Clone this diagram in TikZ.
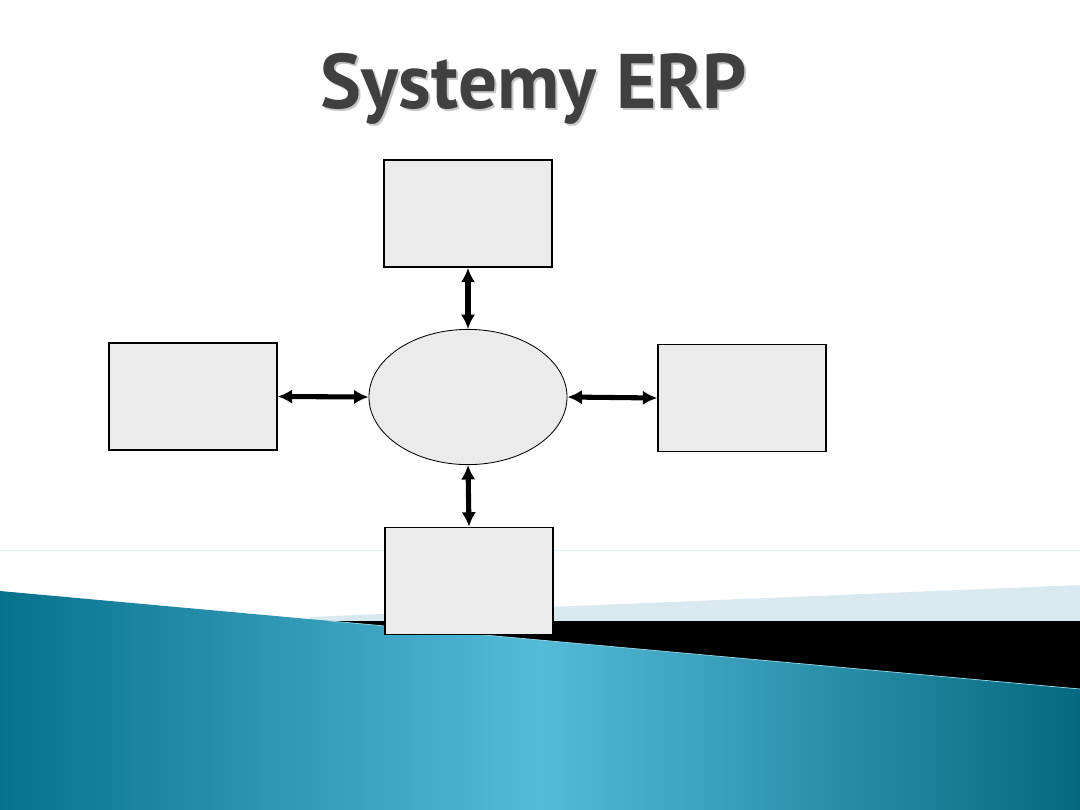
\documentclass[tikz,border=0pt]{standalone}
\usepackage{fontspec}
\setsansfont{PT Sans}
\usetikzlibrary{positioning,arrows.meta,shapes.geometric}

\definecolor{tealdark}{RGB}{6,114,140}
\definecolor{teallight}{RGB}{84,186,216}
\definecolor{bandblue}{RGB}{217,233,240}
\definecolor{hairblue}{RGB}{222,240,247}
\definecolor{boxgray}{RGB}{235,235,235}
\definecolor{titlegray}{RGB}{64,64,64}

\begin{document}
\begin{tikzpicture}[
  x=0.025cm, y=-0.025cm,
  >={Latex[length=3.6mm,width=3.6mm]},
  erpbox/.style={rectangle, draw=black, line width=1pt, fill=boxgray, minimum width=4.2cm, minimum height=2.68cm, inner sep=0pt},
  erpcore/.style={ellipse, draw=black, line width=0.6pt, fill=boxgray, minimum width=4.95cm, minimum height=3.38cm, inner sep=0pt},
  linkarrow/.style={<->, draw=black, line width=3.6pt}
]
  \useasboundingbox (0,0) rectangle (1080,810);
  % slide background
  \draw[hairblue, line width=0.6pt] (0,550) -- (1080,550);
  \fill[bandblue] (310,617) -- (1080,585) -- (1080,622) -- (310,622) -- cycle;
  \fill[black] (320,621) -- (1080,621) -- (1080,689) -- cycle;
  \begin{scope}[y=0.025cm]
    \shade[left color=tealdark, right color=tealdark!92!black, middle color=teallight]
      (0,-591) -- (1080,-689) -- (1080,-810) -- (0,-810) -- cycle;
  \end{scope}
  \draw[teallight!60!white, line width=0.5pt] (330,621) -- (1080,689);

  % title
  \node[anchor=base, font=\sffamily\bfseries\fontsize{55}{60}\selectfont, text=black!22] at (536,110) {Systemy ERP};
  \node[anchor=base, font=\sffamily\bfseries\fontsize{55}{60}\selectfont, text=titlegray] (title) at (534,108) {Systemy ERP};

  % diagram
  \node[erpcore] (core) at (468,397) {};
  \node[erpbox] (top) at (468,213.5) {};
  \node[erpbox] (left) at (193,396.5) {};
  \node[erpbox] (right) at (742,398) {};
  \node[erpbox] (bottom) at (469,581) {};
  \draw[linkarrow] (core.north) -- (top.south);
  \draw[linkarrow] (core.west) -- (left.east);
  \draw[linkarrow] (core.east) -- (right.west);
  \draw[linkarrow] (core.south) -- (bottom.north);
\end{tikzpicture}
\end{document}
